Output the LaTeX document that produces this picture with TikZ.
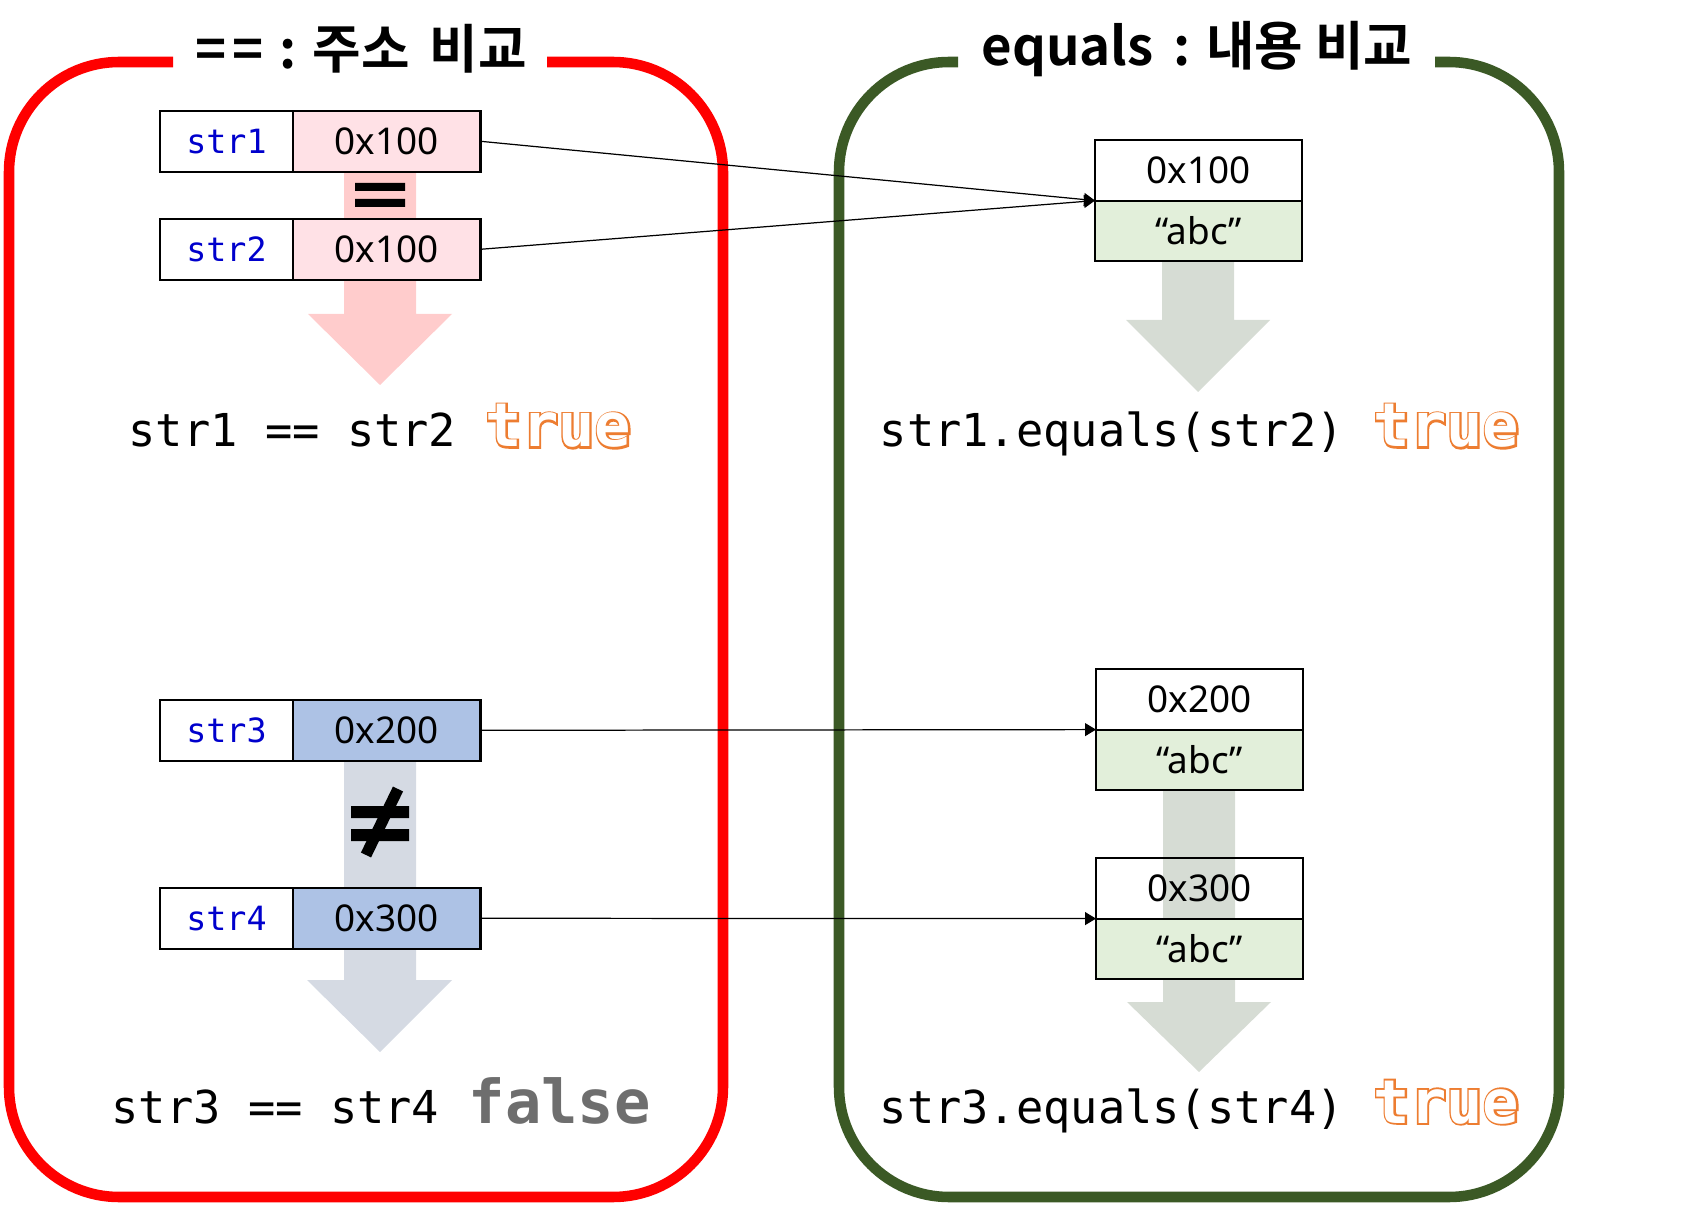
\documentclass[tikz,border=0pt]{standalone}
\usepackage{fontspec}
\setmainfont{Noto Sans}
\newfontfamily\titlefont{Noto Sans CJK KR Bold}
\newfontfamily\codefont{DejaVu Sans Mono}
\newfontfamily\boldcode{DejaVu Sans Mono Bold}
\newfontfamily\fatcode[FakeBold=6]{DejaVu Sans Mono Bold}
\usetikzlibrary{positioning,arrows.meta,backgrounds}
\definecolor{boxred}{RGB}{255,0,0}
\definecolor{boxgreen}{RGB}{59,89,37}
\definecolor{pinkcell}{RGB}{255,225,230}
\definecolor{pinkarrow}{RGB}{255,204,204}
\definecolor{bluecell}{RGB}{173,194,229}
\definecolor{bluearrow}{RGB}{213,218,227}
\definecolor{greencell}{RGB}{226,239,218}
\definecolor{greenarrow}{RGB}{214,220,212}
\definecolor{codeblue}{RGB}{0,0,204}
\definecolor{trueorange}{RGB}{237,125,49}
\definecolor{falsegray}{RGB}{110,110,110}
\newcommand{\outlined}[1]{\rlap{\textcolor{trueorange}{\fatcode #1}}\textcolor{white}{\boldcode #1}}
\begin{document}
\begin{tikzpicture}[x=0.1mm,y=-0.1mm,
  lbl/.style={draw,line width=0.6pt,minimum width=1.33cm,minimum height=0.606cm,inner sep=0pt,outer sep=0pt,text=codeblue,font=\codefont\fontsize{9.5pt}{11pt}\selectfont},
  val/.style={draw,line width=0.6pt,minimum width=1.875cm,minimum height=0.606cm,inner sep=0pt,outer sep=0pt,font=\fontsize{10.5pt}{12pt}\selectfont},
  mem/.style={val,minimum width=2.07cm},
  code/.style={anchor=base west,inner sep=0pt,font=\codefont\fontsize{12.9pt}{15pt}\selectfont},
  res/.style={anchor=base west,inner sep=0pt,font=\fontsize{17.2pt}{20pt}\selectfont},
  title/.style={font=\titlefont\fontsize{15pt}{17pt}\selectfont},
  link/.style={line width=0.35pt,-{Triangle[length=1.1mm,width=1.3mm]}}]
\useasboundingbox (0,0) rectangle (1701,1206);
\draw[boxred,line width=3pt,rounded corners=1.1cm] (547,62) -- (723,62) -- (723,1197) -- (9,1197) -- (9,62) -- (173,62);
\draw[boxgreen,line width=3pt,rounded corners=1.1cm] (1435,62) -- (1559,62) -- (1559,1197) -- (839,1197) -- (839,62) -- (958,62);
\node[title] (t1) at (361,49) {=\kern0.12em=\hspace{0.3em}:\hspace{0.3em}주소\hspace{0.15em} 비교};
\node[title] (t2) at (1197,49) {equals\hspace{0.15em} : 내용 비교};

\node[lbl,anchor=north west] (s1) at (160,111) {str1};
\node[val,fill=pinkcell,right=0pt of s1] (a1) {0x100};
\node[lbl,anchor=north west] (s2) at (160,219) {str2};
\node[val,fill=pinkcell,right=0pt of s2] (a2) {0x100};
\node[lbl,anchor=north west] (s3) at (160,700) {str3};
\node[val,fill=bluecell,right=0pt of s3] (a3) {0x200};
\node[lbl,anchor=north west] (s4) at (160,888) {str4};
\node[val,fill=bluecell,right=0pt of s4] (a4) {0x300};

\node[mem,anchor=north west] (m1) at (1095,140) {0x100};
\node[mem,fill=greencell,below=0pt of m1] (c1) {“abc”};
\node[mem,anchor=north west] (m2) at (1096,669) {0x200};
\node[mem,fill=greencell,below=0pt of m2] (c2) {“abc”};
\node[mem,anchor=north west] (m3) at (1096,858) {0x300};
\node[mem,fill=greencell,below=0pt of m3] (c3) {“abc”};

\begin{scope}[on background layer]
\fill[pinkarrow] (344,171) -- (416,171) -- (416,314) -- (452,314) -- (380,385) -- (308,314) -- (344,314) -- cycle;
\fill[bluearrow] (344,760) -- (416,760) -- (416,980) -- (452,980) -- (380,1052) -- (307,980) -- (344,980) -- cycle;
\fill[greenarrow] (1162,261) -- (1234,261) -- (1234,320) -- (1270,320) -- (1198,392) -- (1126,320) -- (1162,320) -- cycle;
\fill[greenarrow] (1163,790) -- (1235,790) -- (1235,1002) -- (1271,1002) -- (1199,1072) -- (1127,1002) -- (1163,1002) -- cycle;
\end{scope}

\fill (355,183) rectangle (405,191) (355,199) rectangle (405,207);
\fill (351,806) rectangle (409,818) (351,829) rectangle (409,841);
\draw[line width=3.2pt] (398,789) -- (366,855);

\node[code] (e1) at (128,447) {str1 == str2};
\node[res] (r1) at (485,447) {\outlined{true}};
\node[code] (e2) at (879,447) {str1.equals(str2)};
\node[res] (r2) at (1373,447) {\outlined{true}};
\node[code] (e3) at (111,1123) {str3 == str4};
\node[res,text=falsegray] (r3) at (468,1123) {\boldcode false};
\node[code] (e4) at (879,1123) {str3.equals(str4)};
\node[res] (r4) at (1373,1123) {\outlined{true}};

\draw[link] (a1.east) -- (m1.south west);
\draw[link] (a2.east) -- (m1.south west);
\draw[link] (a3.east) -- (m2.south west);
\draw[link] (a4.east) -- (m3.south west);
\end{tikzpicture}
\end{document}
